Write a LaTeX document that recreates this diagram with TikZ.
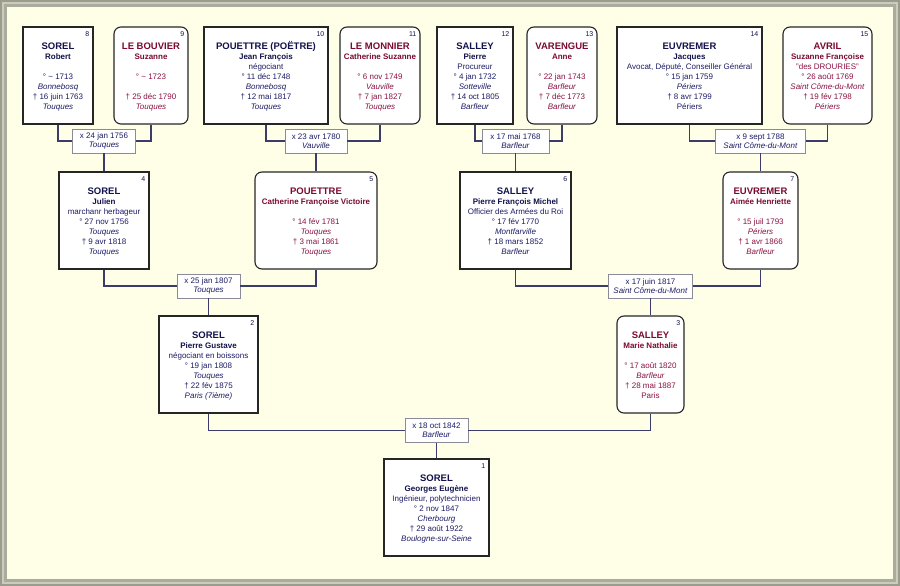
\documentclass[tikz,border=0pt]{standalone}
\usepackage{fontspec}
\setmainfont{Liberation Sans}
\usetikzlibrary{calc}
\definecolor{bg}{HTML}{FFFFE8}
\definecolor{frA}{HTML}{9C9C8C}
\definecolor{frB}{HTML}{CCCCBC}
\definecolor{mtxt}{HTML}{1C1C66}
\definecolor{mname}{HTML}{12124C}
\definecolor{ftxt}{HTML}{8A1242}
\definecolor{fname}{HTML}{7A0A32}
\definecolor{conn}{HTML}{3C3C6C}
\definecolor{boxline}{HTML}{262626}
\definecolor{mline}{HTML}{8A8A98}
\tikzset{
  malebox/.style={draw=boxline, fill=white, line width=1.1pt, inner sep=0pt},
  femalebox/.style={malebox, rounded corners=7pt},
  numtxt/.style={font=\fontsize{7}{8}\selectfont, text=mname, inner sep=0pt},
  malesurn/.style={font=\fontsize{9.5}{11}\selectfont\bfseries, text=mname, inner sep=0pt},
  femalesurn/.style={font=\fontsize{9.5}{11}\selectfont\bfseries, text=fname, inner sep=0pt},
  malegiven/.style={font=\fontsize{8}{9}\selectfont\bfseries, text=mname, inner sep=0pt},
  femalegiven/.style={font=\fontsize{8}{9}\selectfont\bfseries, text=fname, inner sep=0pt},
  maledet/.style={font=\fontsize{8}{9}\selectfont, text=mtxt, inner sep=0pt},
  femaledet/.style={font=\fontsize{8}{9}\selectfont, text=ftxt, inner sep=0pt},
  marr/.style={draw=mline, fill=white, line width=0.8pt, minimum height=24pt, align=center,
    font=\fontsize{8}{9}\selectfont, text=mtxt, inner sep=0pt},
  connector/.style={draw=conn, line width=1.3pt}
}
\newcommand\person[6]{% id, sex, cx, top, width, num
  \node[#2box, minimum width=#5pt, minimum height=97pt] (#1) at (#3,#4+48.5) {};
  \node[numtxt, anchor=base east] (#1n) at ([xshift=-4pt,yshift=-10.5pt]#1.north east) {#6};}
\newcommand\plines[5]{% id, sex, surname, given, lines
  \node[#2surn, anchor=base] (#1s) at ([yshift=-23pt]#1.north) {#3};
  \node[#2given, anchor=base] (#1g) at ([yshift=-33pt]#1.north) {#4};
  \foreach \t [count=\i] in {#5}{\node[#2det, anchor=base] (#1l\i) at ([yshift=-33pt-10pt*\i]#1.north) {\t};}}
\begin{document}
\begin{tikzpicture}[x=1pt,y=-1pt]
\useasboundingbox (0,0) rectangle (900,586);
% frame
\fill[frA] (0,0) rectangle (900,586);
\fill[frB] (2,2) rectangle (898,584);
\fill[frA!80!black!40!frB] (4,4) rectangle (896,582);
\fill[bg] (7,7) rectangle (893,579);
% generation 4
\person{b8}{male}{58}{27}{70}{8}
\plines{b8}{male}{SOREL}{Robert}{{},{° \char`~{} 1713},{\textit{Bonnebosq}},{† 16 juin 1763},{\textit{Touques}}}
\person{b9}{female}{151}{27}{74}{9}
\plines{b9}{female}{LE BOUVIER}{Suzanne}{{},{° \char`~{} 1723},{},{† 25 déc 1790},{\textit{Touques}}}
\person{b10}{male}{266}{27}{124}{10}
\plines{b10}{male}{POUETTRE (POËTRE)}{Jean François}{{négociant},{° 11 déc 1748},{\textit{Bonnebosq}},{† 12 mai 1817},{\textit{Touques}}}
\person{b11}{female}{380}{27}{80}{11}
\plines{b11}{female}{LE MONNIER}{Catherine Suzanne}{{},{° 6 nov 1749},{\textit{Vauville}},{† 7 jan 1827},{\textit{Touques}}}
\person{b12}{male}{475}{27}{76}{12}
\plines{b12}{male}{SALLEY}{Pierre}{{Procureur},{° 4 jan 1732},{\textit{Sotteville}},{† 14 oct 1805},{\textit{Barfleur}}}
\person{b13}{female}{562}{27}{70}{13}
\plines{b13}{female}{VARENGUE}{Anne}{{},{° 22 jan 1743},{\textit{Barfleur}},{† 7 déc 1773},{\textit{Barfleur}}}
\person{b14}{male}{689.5}{27}{145}{14}
\plines{b14}{male}{EUVREMER}{Jacques}{{Avocat, Député, Conseiller Général},{° 15 jan 1759},{\textit{Périers}},{† 8 avr 1799},{Périers}}
\person{b15}{female}{827.5}{27}{89}{15}
\plines{b15}{female}{AVRIL}{Suzanne Françoise}{{"des DROURIES"},{° 26 août 1769},{\textit{Saint Côme-du-Mont}},{† 19 fév 1798},{\textit{Périers}}}
% generation 3
\person{b4}{male}{104}{172}{90}{4}
\plines{b4}{male}{SOREL}{Julien}{{marchanr herbageur},{° 27 nov 1756},{\textit{Touques}},{† 9 avr 1818},{\textit{Touques}}}
\person{b5}{female}{316}{172}{122}{5}
\plines{b5}{female}{POUETTRE}{Catherine Françoise Victoire}{{},{° 14 fév 1781},{\textit{Touques}},{† 3 mai 1861},{\textit{Touques}}}
\person{b6}{male}{515.5}{172}{111}{6}
\plines{b6}{male}{SALLEY}{Pierre François Michel}{{Officier des Armées du Roi},{° 17 fév 1770},{\textit{Montfarville}},{† 18 mars 1852},{\textit{Barfleur}}}
\person{b7}{female}{760.5}{172}{75}{7}
\plines{b7}{female}{EUVREMER}{Aimée Henriette}{{},{° 15 juil 1793},{\textit{Périers}},{† 1 avr 1866},{\textit{Barfleur}}}
% generation 2
\person{b2}{male}{208.5}{316}{99}{2}
\plines{b2}{male}{SOREL}{Pierre Gustave}{{négociant en boissons},{° 19 jan 1808},{\textit{Touques}},{† 22 fév 1875},{\textit{Paris (7ième)}}}
\person{b3}{female}{650.5}{316}{67}{3}
\plines{b3}{female}{SALLEY}{Marie Nathalie}{{},{° 17 août 1820},{\textit{Barfleur}},{† 28 mai 1887},{Paris}}
% generation 1
\person{b1}{male}{436.5}{459}{105}{1}
\plines{b1}{male}{SOREL}{Georges Eugène}{{Ingénieur, polytechnicien},{° 2 nov 1847},{\textit{Cherbourg}},{† 29 août 1922},{\textit{Boulogne-sur-Seine}}}
% marriages
\node[marr, minimum width=63pt] (m89) at (104,141) {x 24 jan 1756\\\textit{Touques}};
\node[marr, minimum width=62pt] (m1011) at (316,141) {x 23 avr 1780\\\textit{Vauville}};
\node[marr, minimum width=67pt] (m1213) at (515.5,141) {x 17 mai 1768\\\textit{Barfleur}};
\node[marr, minimum width=90pt] (m1415) at (760.5,141) {x 9 sept 1788\\\textit{Saint Côme-du-Mont}};
\node[marr, minimum width=63pt] (m45) at (208.5,286) {x 25 jan 1807\\\textit{Touques}};
\node[marr, minimum width=84pt] (m67) at (650.5,286) {x 17 juin 1817\\\textit{Saint Côme-du-Mont}};
\node[marr, minimum width=63pt] (m23) at (436.5,430.5) {x 18 oct 1842\\\textit{Barfleur}};
% connectors
\draw[connector] (b8.south) |- (m89.west);
\draw[connector] (b9.south) |- (m89.east);
\draw[connector] (m89.south) -- (b4.north);
\draw[connector] (b10.south) |- (m1011.west);
\draw[connector] (b11.south) |- (m1011.east);
\draw[connector] (m1011.south) -- (b5.north);
\draw[connector] (b12.south) |- (m1213.west);
\draw[connector] (b13.south) |- (m1213.east);
\draw[connector] (m1213.south) -- (b6.north);
\draw[connector] (b14.south) |- (m1415.west);
\draw[connector] (b15.south) |- (m1415.east);
\draw[connector] (m1415.south) -- (b7.north);
\draw[connector] (b4.south) |- (m45.west);
\draw[connector] (b5.south) |- (m45.east);
\draw[connector] (m45.south) -- (b2.north);
\draw[connector] (b6.south) |- (m67.west);
\draw[connector] (b7.south) |- (m67.east);
\draw[connector] (m67.south) -- (b3.north);
\draw[connector] (b2.south) |- (m23.west);
\draw[connector] (b3.south) |- (m23.east);
\draw[connector] (m23.south) -- (b1.north);
\end{tikzpicture}
\end{document}
